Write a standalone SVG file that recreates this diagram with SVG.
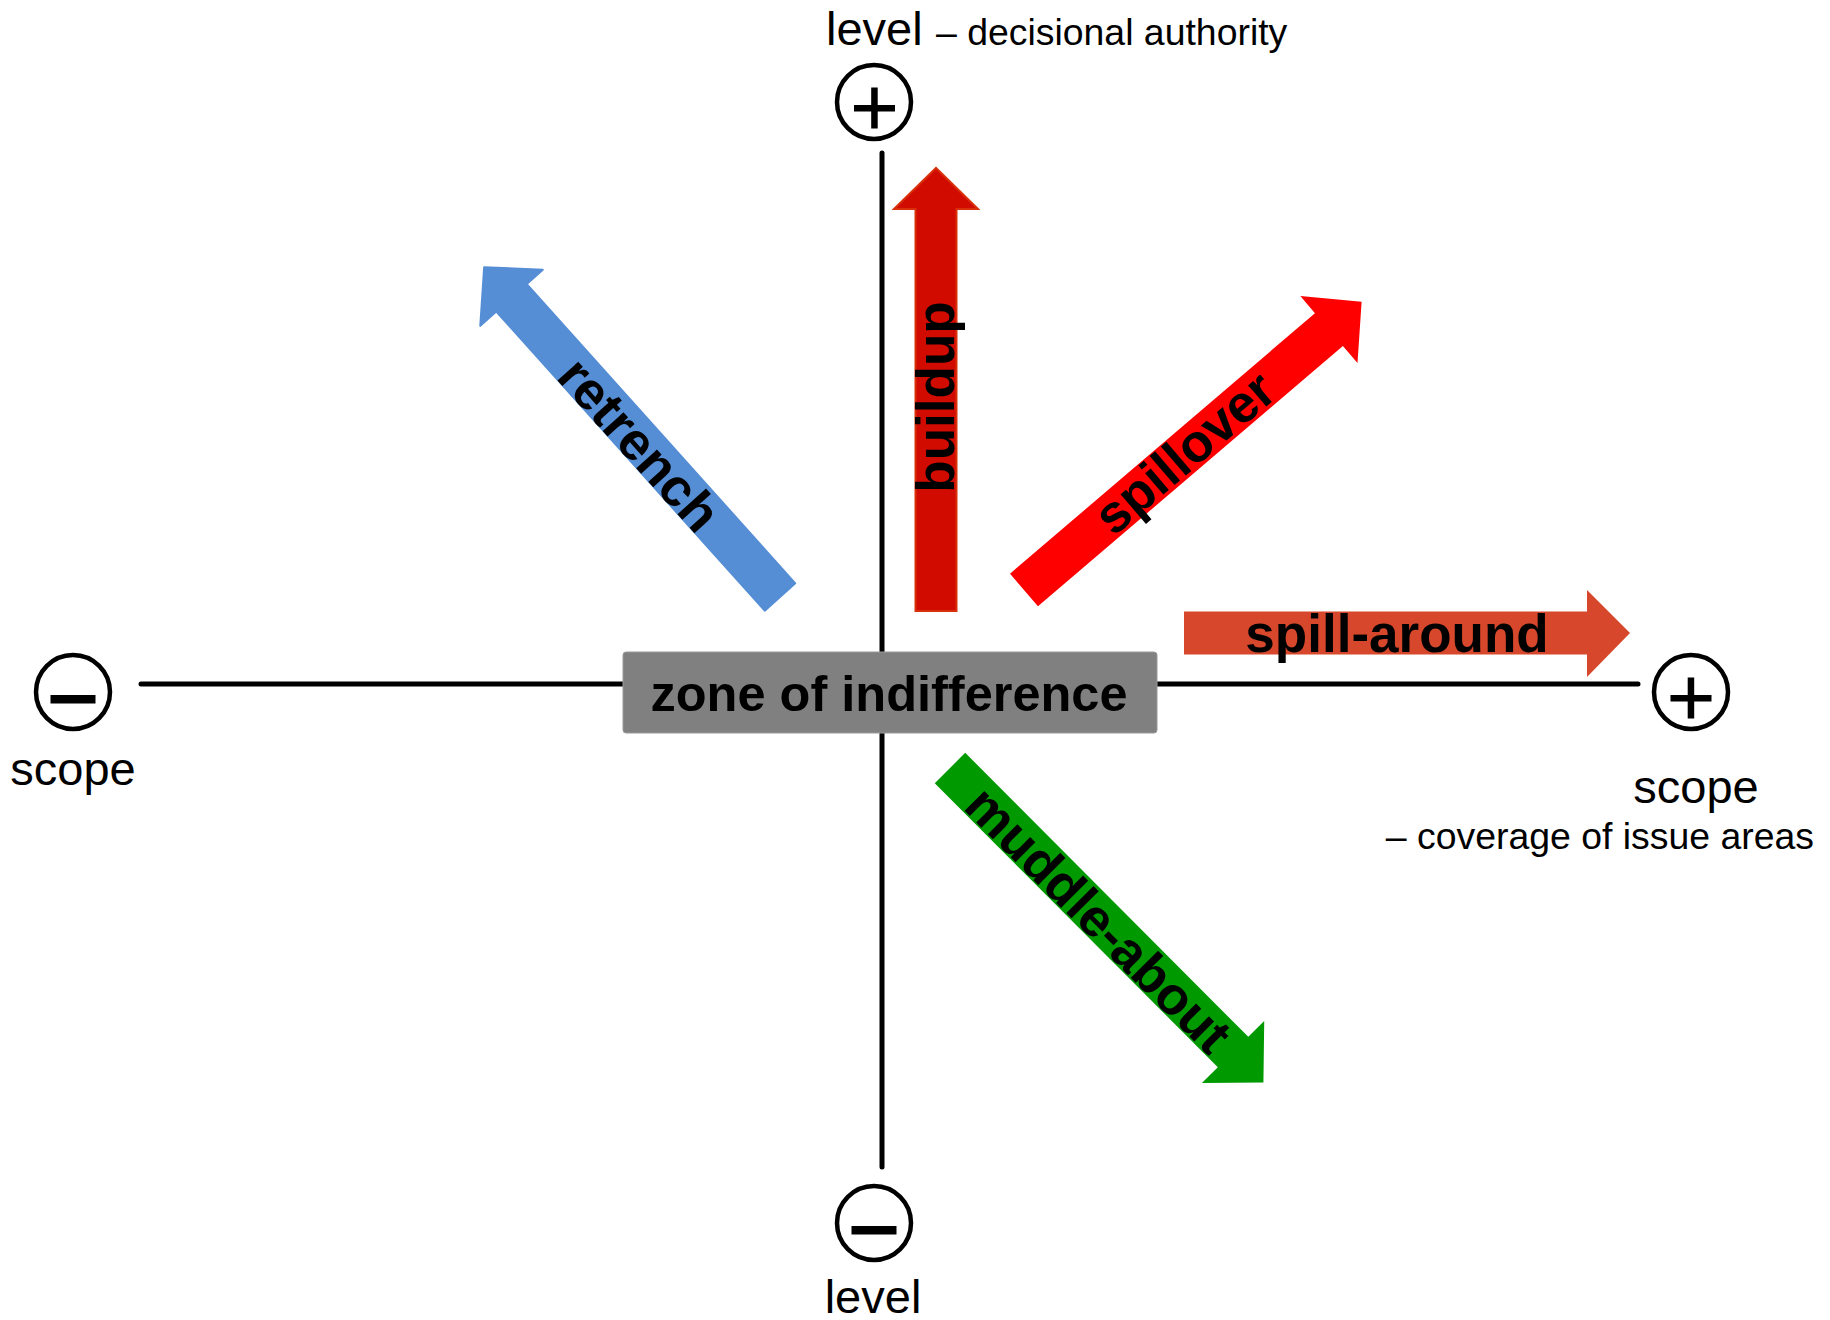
<svg xmlns="http://www.w3.org/2000/svg" width="1830" height="1320" viewBox="0 0 1830 1320">
<style>
text{font-family:"Liberation Sans",Arial,sans-serif;fill:#000}
.ax{font-size:47px}
.sub{font-size:37.4px}
.lbl{font-size:53px;font-weight:bold;text-anchor:middle}
.axis{stroke:#000;stroke-width:5;stroke-linecap:round;fill:none}
.axsh{stroke:#000;stroke-opacity:.35;stroke-width:5;stroke-linecap:round;fill:none;filter:url(#blur)}
.circ{fill:#fff;stroke:#000;stroke-width:4.5}
.sym{fill:#000}
</style>
<defs>
<filter id="blur" x="-10%" y="-10%" width="120%" height="120%"><feGaussianBlur stdDeviation="2"/></filter>
<path id="arr" d="M0,-21.5 H401 V-44 L444,0 L401,44 V21.5 H0 Z"/>
<path id="arr2" d="M0,-20.5 H402 V-42 L443,0 L402,42 V20.5 H0 Z"/>
</defs>
<rect width="1830" height="1320" fill="#fff"/>
<g id="connectors">
<line class="axsh" x1="143" y1="688" x2="1638" y2="688"/>
<line class="axis" x1="141" y1="684" x2="1638" y2="684"/>
<line class="axsh" x1="878" y1="155" x2="878" y2="1168"/>
<line class="axis" x1="882" y1="153" x2="882" y2="1167"/>
</g>
<g id="top-plus">
<circle class="circ" cx="874" cy="102" r="37"/>
<rect class="sym" x="854" y="105" width="41" height="6.5"/>
<rect class="sym" x="871.2" y="87.5" width="6.5" height="41"/>
<text class="ax" x="826" y="45">level</text>
<text class="sub" x="936" y="45">– decisional authority</text>
</g>
<g id="bottom-minus">
<circle class="circ" cx="874" cy="1223" r="37"/>
<rect class="sym" x="851.5" y="1226" width="45" height="8.5"/>
<text class="ax" x="873" y="1313" text-anchor="middle">level</text>
</g>
<g id="left-minus">
<circle class="circ" cx="73" cy="692" r="37"/>
<rect class="sym" x="50.5" y="695" width="45" height="8.5"/>
<text class="ax" x="73" y="785" text-anchor="middle">scope</text>
</g>
<g id="right-plus">
<circle class="circ" cx="1691" cy="692" r="37"/>
<rect class="sym" x="1670.5" y="695" width="41" height="6.5"/>
<rect class="sym" x="1687.7" y="677.5" width="6.5" height="41"/>
<text class="ax" x="1696" y="803" text-anchor="middle">scope</text>
<text class="sub" x="1814" y="849" text-anchor="end">– coverage of issue areas</text>
</g>
<g id="zone">
<rect x="623" y="652" width="534" height="81" rx="3" fill="#808080" stroke="#9a9a9a" stroke-width="1"/>
<text x="889" y="711" text-anchor="middle" font-size="50.5" font-weight="bold">zone of indifference</text>
</g>
<g id="retrench">
<use href="#arr2" transform="translate(780,597) rotate(-131.9)" fill="#558ED5" stroke="#558ED5" stroke-width="2" stroke-linejoin="round"/>
<text class="lbl" transform="translate(640,444) rotate(48.1)" x="0" y="19">retrench</text>
</g>
<g id="buildup">
<use href="#arr2" transform="translate(936,611) rotate(-90)" fill="#D20B00" stroke="#D8300A" stroke-width="2"/>
<text class="lbl" transform="translate(935,397) rotate(-90)" x="0" y="19">buildup</text>
</g>
<g id="spillover">
<use href="#arr" transform="translate(1024,590) rotate(-40.5)" fill="#FF0000"/>
<text class="lbl" transform="translate(1184,452) rotate(-40.5)" x="0" y="19">spillover</text>
</g>
<g id="spill-around">
<path d="M1184,611.5 H1587 V590 L1630,633 L1587,677 V654.5 H1184 Z" fill="#D6472B"/>
<text class="lbl" x="1397" y="652">spill-around</text>
</g>
<g id="muddle-about">
<use href="#arr" transform="translate(950,768) rotate(45.1)" fill="#009900"/>
<text class="lbl" transform="translate(1099,919) rotate(45.1)" x="0" y="19">muddle-about</text>
</g>
</svg>
